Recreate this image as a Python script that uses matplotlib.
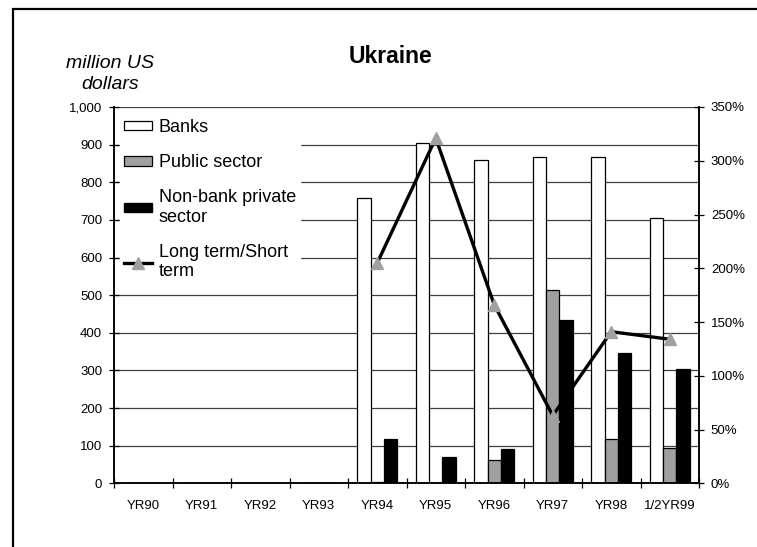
import matplotlib
matplotlib.use("Agg")
import matplotlib.pyplot as plt
import numpy as np
from matplotlib.patches import Rectangle, Patch
from matplotlib.lines import Line2D
from matplotlib.ticker import FuncFormatter, PercentFormatter

plt.rcParams['font.family'] = ['Liberation Sans', 'DejaVu Sans']

years = ["YR90", "YR91", "YR92", "YR93", "YR94", "YR95", "YR96", "YR97", "YR98", "1/2YR99"]
banks = [0, 0, 0, 0, 759, 903, 859, 868, 867, 704]
public_sector = [0, 0, 0, 0, 3, 0, 63, 515, 119, 94]
non_bank_private = [0, 0, 0, 0, 117, 70, 92, 433, 347, 305]
long_short_ratio = [np.nan, np.nan, np.nan, np.nan, 2.05, 3.21, 1.66, 0.63, 1.41, 1.34]

fig = plt.figure(figsize=(7.57, 5.47), dpi=100)
ax = fig.add_axes([0.1506, 0.1164, 0.7728, 0.688])
ax2 = ax.twinx()

x = np.arange(len(years))
w = 0.227
ax.bar(x - w, banks, w, color="white", edgecolor="black", linewidth=0.9)
ax.bar(x, public_sector, w, color="#a0a0a0", edgecolor="black", linewidth=0.9)
ax.bar(x + w, non_bank_private, w, color="black", edgecolor="black", linewidth=0.9)

ax2.plot(x, long_short_ratio, color="black", linewidth=2.4,
         marker="^", markersize=9, markerfacecolor="#a0a0a0",
         markeredgecolor="#a0a0a0")

ax.set_xlim(-0.5, len(years) - 0.5)
ax.set_ylim(0, 1000)
ax2.set_ylim(0, 3.5)

ax.set_yticks(np.arange(0, 1001, 100))
ax.yaxis.set_major_formatter(FuncFormatter(lambda v, p: f"{int(v):,}"))
ax2.set_yticks(np.arange(0, 3.51, 0.5))
ax2.yaxis.set_major_formatter(PercentFormatter(1.0, decimals=0))

ax.set_xticks(x)
ax.set_xticklabels(years)
ax.set_xticks(np.arange(-0.5, len(years), 1), minor=True)
ax.tick_params(axis="x", which="major", length=0, pad=12, labelsize=9.5)
ax.tick_params(axis="x", which="minor", length=7, direction="inout", width=0.9)
ax.tick_params(axis="y", length=7, direction="inout", width=0.9, labelsize=9.5, pad=5)
ax2.tick_params(axis="y", length=7, direction="inout", width=0.9, labelsize=9.5, pad=5)

ax.grid(axis="y", color="#404040", linewidth=0.9)
ax.set_axisbelow(True)
for a in (ax, ax2):
    a.spines["top"].set_visible(False)
    for s in ("left", "right", "bottom"):
        a.spines[s].set_linewidth(1.1)

handles = [
    Patch(facecolor="white", edgecolor="black", linewidth=0.9),
    Patch(facecolor="#a0a0a0", edgecolor="black", linewidth=0.9),
    Patch(facecolor="black", edgecolor="black"),
    Line2D([], [], color="black", linewidth=2.4, marker="^", markersize=9,
           markerfacecolor="#a0a0a0", markeredgecolor="#a0a0a0"),
]
labels = ["Banks", "Public sector", "Non-bank private\nsector", "Long term/Short\nterm"]
leg = ax2.legend(handles, labels, loc="upper left", bbox_to_anchor=(0.01, 0.98),
                 fontsize=13, frameon=True, fancybox=False, handlelength=1.55,
                 handleheight=0.45, handletextpad=0.35, labelspacing=1.0,
                 borderpad=0.25, borderaxespad=0.0)
leg.get_frame().set_edgecolor("white")
leg.get_frame().set_facecolor("white")
leg.get_frame().set_alpha(1)

fig.text(0.516, 0.897, "Ukraine", ha="center", va="center", fontsize=16.5, fontweight="bold")
fig.text(0.145, 0.864, "million US\ndollars", ha="center", va="center",
         fontsize=14, style="italic", linespacing=1.3)

fig.add_artist(Rectangle((13 / 757, -0.1), 1.2, 1.1 - 9 / 547, transform=fig.transFigure,
                         fill=False, edgecolor="black", linewidth=1.6))

fig.savefig("out.png", dpi=100)
